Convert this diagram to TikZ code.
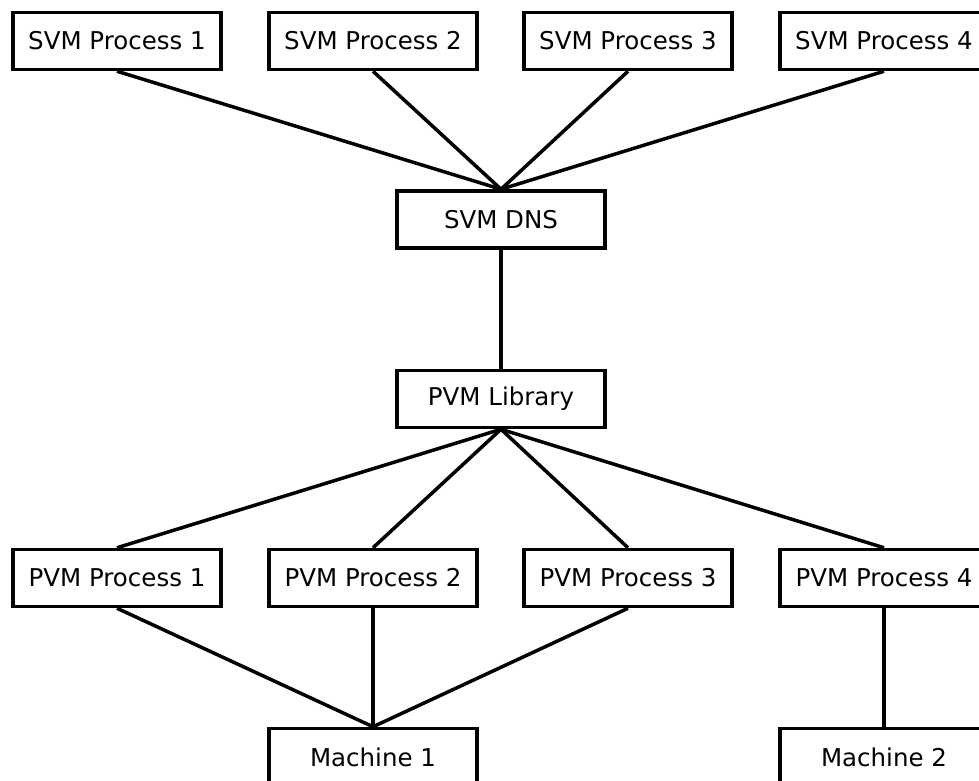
\documentclass[tikz,border=0pt]{standalone}
\usepackage{fontspec}
\setmainfont{DejaVu Sans}
\begin{document}
\begin{tikzpicture}[x=1pt,y=-1pt,
  box/.style={draw=black,line width=3.5pt,fill=white,minimum width=208pt,minimum height=57pt,inner sep=0pt,font=\fontsize{24.5}{28}\selectfont},
  link/.style={line width=3.5pt}]
\clip (0,0) rectangle (979,781);
\fill[white] (0,0) rectangle (979,781);
\node[box] (s1) at (117,41) {SVM Process 1};
\node[box] (s2) at (373,41) {SVM Process 2};
\node[box] (s3) at (628,41) {SVM Process 3};
\node[box] (s4) at (884,41) {SVM Process 4};
\node[box] (dns) at (501,219.5) {SVM DNS};
\node[box] (lib) at (501,399) {PVM Library};
\node[box] (p1) at (117,578) {PVM Process 1};
\node[box] (p2) at (373,578) {PVM Process 2};
\node[box] (p3) at (628,578) {PVM Process 3};
\node[box] (p4) at (884,578) {PVM Process 4};
\node[box] (m1) at (373,757) {Machine 1};
\node[box] (m2) at (884,757) {Machine 2};
\foreach \n in {s1,s2,s3,s4} \draw[link] (\n.south) -- (dns.north);
\draw[link] (dns.south) -- (lib.north);
\foreach \n in {p1,p2,p3,p4} \draw[link] (lib.south) -- (\n.north);
\foreach \n in {p1,p2,p3} \draw[link] (\n.south) -- (m1.north);
\draw[link] (p4.south) -- (m2.north);
\end{tikzpicture}
\end{document}
